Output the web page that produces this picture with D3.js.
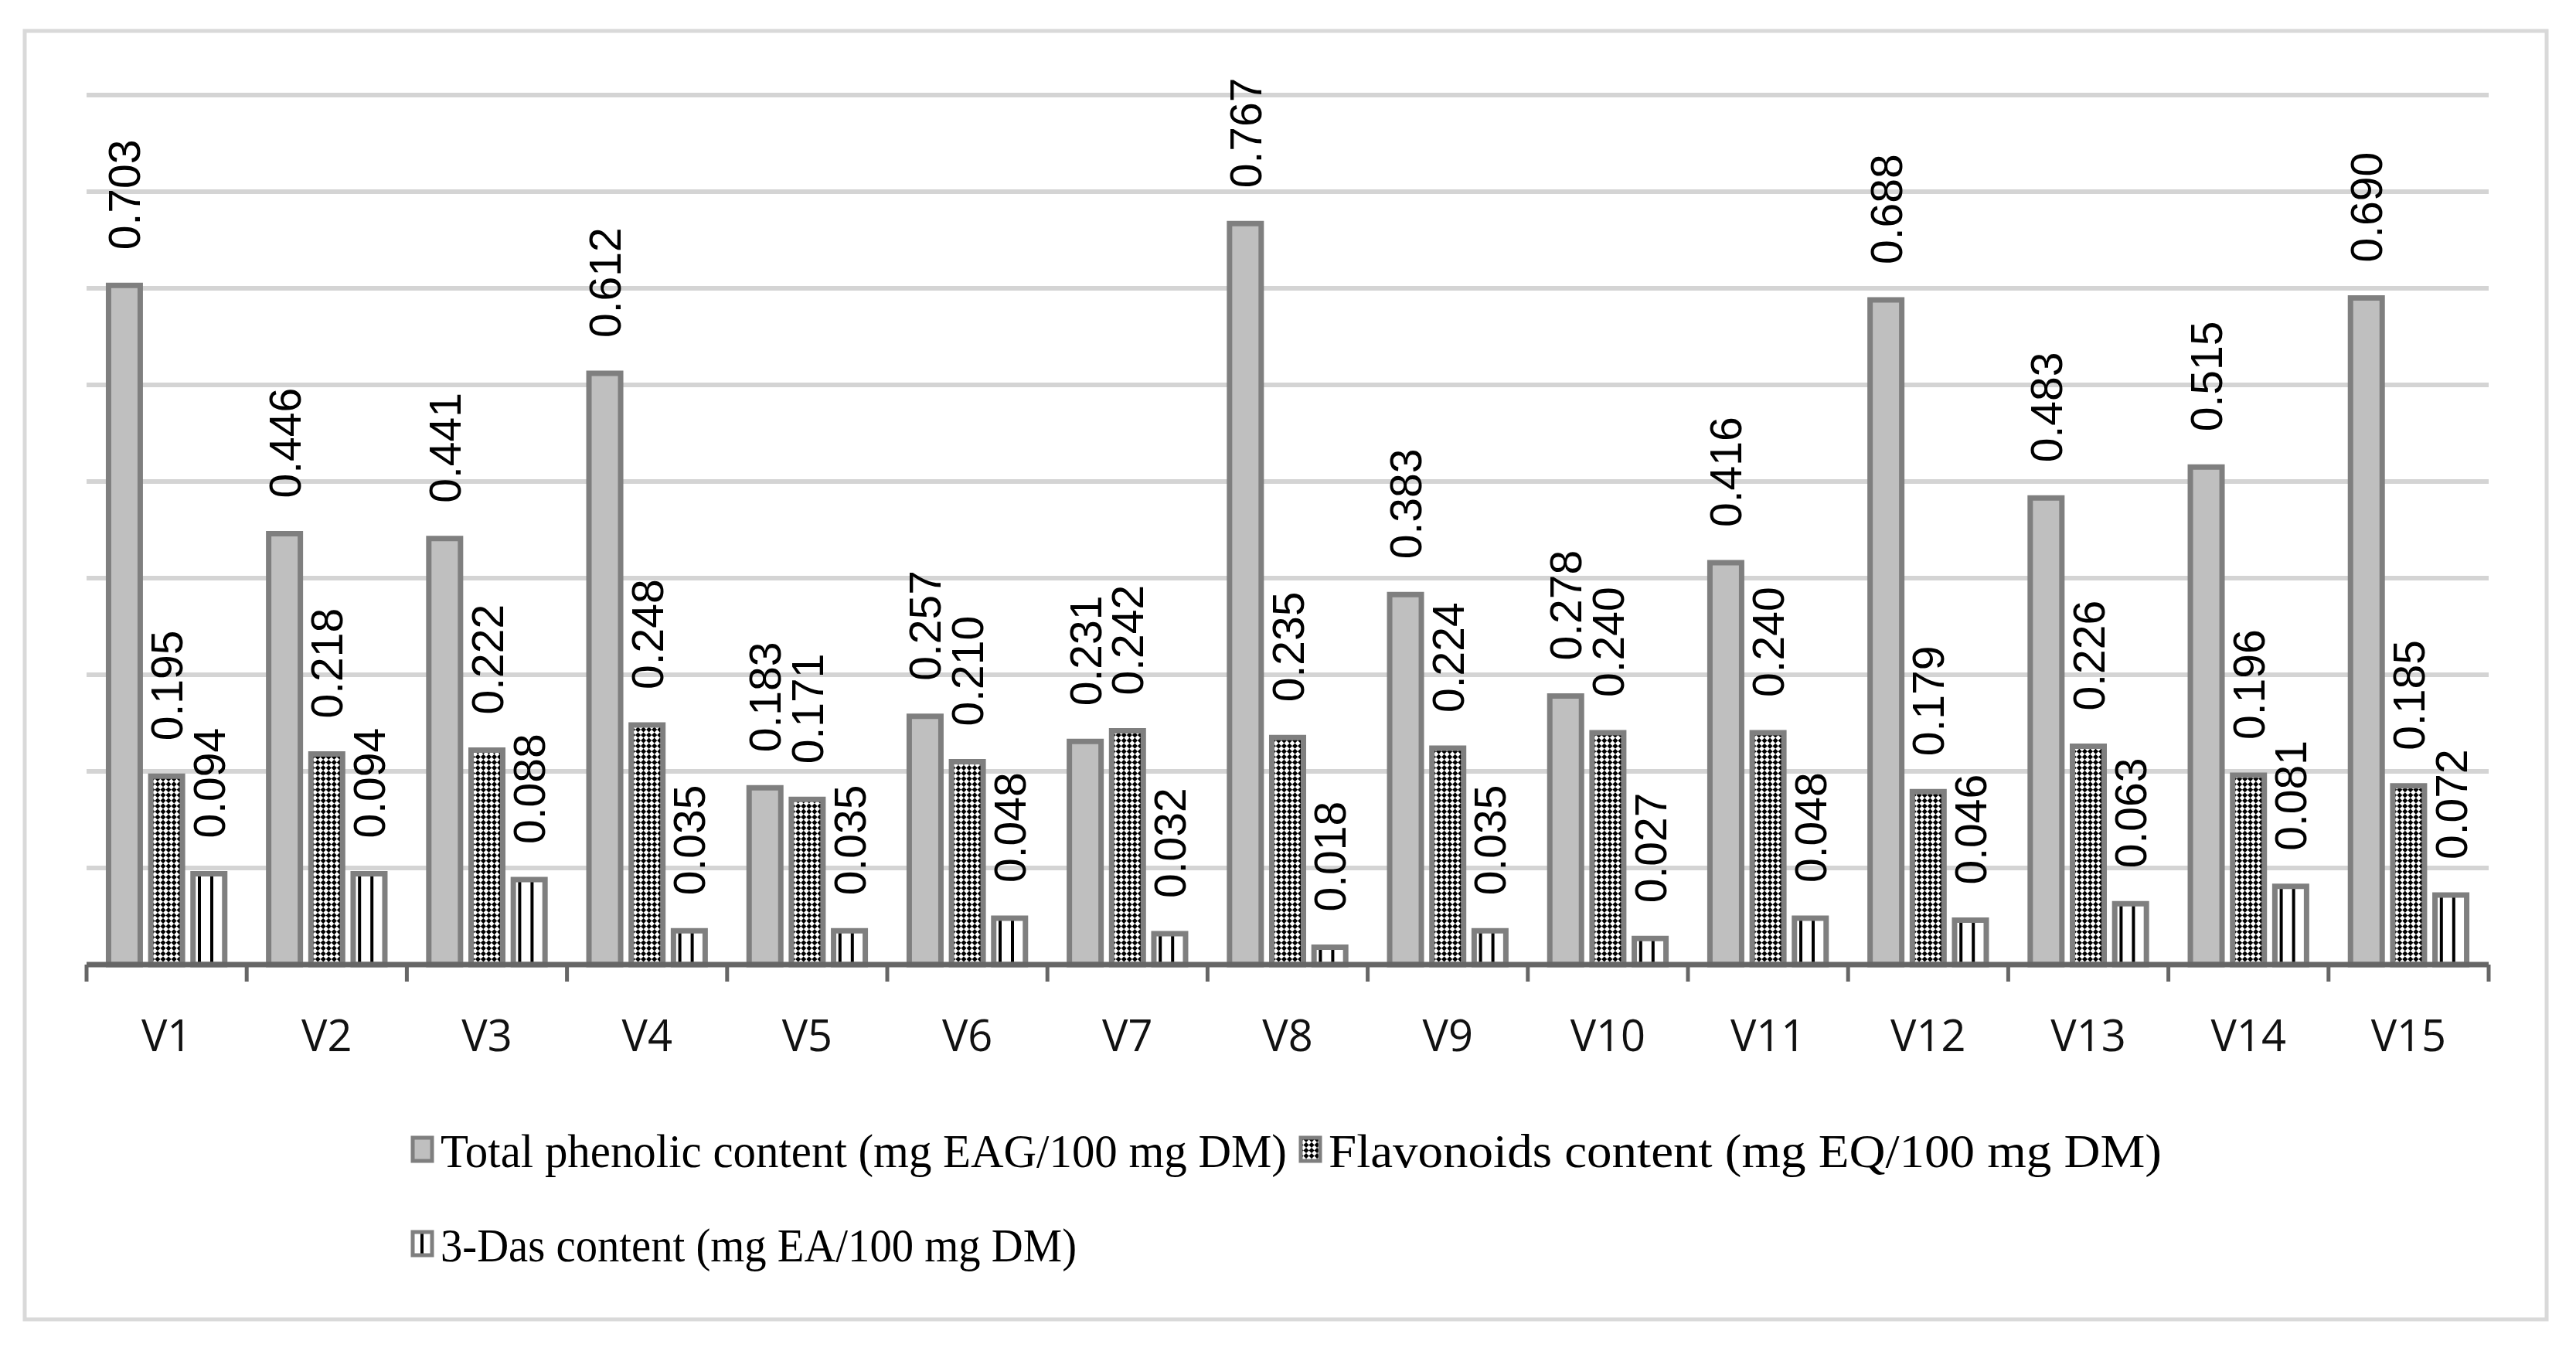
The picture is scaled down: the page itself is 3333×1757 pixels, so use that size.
<!DOCTYPE html>
<html>
<head>
<meta charset="utf-8">
<script src="https://cdn.jsdelivr.net/npm/d3@7"></script>
<style>
  html, body { margin: 0; padding: 0; background: #fff; }
  svg { display: block; }
</style>
</head>
<body>
<div id="chart"></div>
<script>
///////////////////// DATA /////////////////////////
const categories = ["V1","V2","V3","V4","V5","V6","V7","V8","V9","V10","V11","V12","V13","V14","V15"];
const series = [
  "Total phenolic content (mg EAG/100 mg DM)",
  "Flavonoids content (mg EQ/100 mg DM)",
  "3-Das content (mg EA/100 mg DM)"
];
const totalPhenolic = [0.703,0.446,0.441,0.612,0.183,0.257,0.231,0.767,0.383,0.278,0.416,0.688,0.483,0.515,0.690];
const flavonoids    = [0.195,0.218,0.222,0.248,0.171,0.210,0.242,0.235,0.224,0.240,0.240,0.179,0.226,0.196,0.185];
const dasContent    = [0.094,0.094,0.088,0.035,0.035,0.048,0.032,0.018,0.035,0.027,0.048,0.046,0.063,0.081,0.072];
const yTicks = [0,0.1,0.2,0.3,0.4,0.5,0.6,0.7,0.8,0.9];

///////////////////// LAYOUT /////////////////////////
let W = 3333, H = 1757;
let plot = {left: 112, right: 3220, top: 123, bottom: 1248};
let fills = ["#bfbfbf", "url(#checker)", "url(#vstripe)"];
let legendWidths = [1095, 1078, 823]; // text widths in the original legend

let svg = d3.select("#chart")
  .append("svg")
  .attr("width", W)
  .attr("height", H);

// patterns
let defs = svg.append("defs");
let cs = 10;
let checker = defs.append("pattern")
  .attr("id", "checker")
  .attr("patternUnits", "userSpaceOnUse")
  .attr("width", cs).attr("height", cs)
  .attr("patternTransform", "rotate(45)");
checker.append("rect").attr("width", cs).attr("height", cs).attr("fill", "#fff");
checker.append("rect").attr("width", cs / 2).attr("height", cs / 2).attr("fill", "#000");
checker.append("rect").attr("x", cs / 2).attr("y", cs / 2).attr("width", cs / 2).attr("height", cs / 2).attr("fill", "#000");

let stripe = defs.append("pattern")
  .attr("id", "vstripe")
  .attr("patternUnits", "userSpaceOnUse")
  .attr("width", 16).attr("height", 16);
stripe.append("rect").attr("width", 16).attr("height", 16).attr("fill", "#fff");
stripe.append("rect").attr("x", 0).attr("width", 4).attr("height", 16).attr("fill", "#000");

// outer frame
svg.append("rect")
  .attr("x", 32).attr("y", 40)
  .attr("width", 3263).attr("height", 1667)
  .attr("fill", "#fff")
  .attr("stroke", "#d9d9d9")
  .attr("stroke-width", 5);

// scales
let x0 = d3.scaleBand()
  .domain(categories)
  .range([plot.left, plot.right]);

let x1 = d3.scaleBand()
  .domain(series)
  .range([0, x0.bandwidth()])
  .paddingInner(0.25)
  .paddingOuter(0.52);

let y = d3.scaleLinear()
  .domain([0, 0.9])
  .range([plot.bottom, plot.top]);

// gridlines
svg.append("g")
  .selectAll("line")
  .data(yTicks.filter(t => t > 0))
  .enter()
  .append("line")
  .attr("x1", plot.left).attr("x2", plot.right)
  .attr("y1", d => y(d)).attr("y2", d => y(d))
  .attr("stroke", "#d4d4d4")
  .attr("stroke-width", 6);

// bars
let rows = categories.map((c, i) => ({
  cat: c,
  vals: [totalPhenolic[i], flavonoids[i], dasContent[i]]
}));

let groups = svg.append("g")
  .selectAll("g")
  .data(rows)
  .enter()
  .append("g")
  .attr("transform", d => "translate(" + x0(d.cat) + ",0)");

groups.selectAll("rect")
  .data(d => d.vals.map((v, j) => ({s: series[j], j: j, v: v})))
  .enter()
  .append("rect")
  .attr("x", d => x1(d.s))
  .attr("y", d => y(d.v))
  .attr("width", x1.bandwidth())
  .attr("height", d => y(0) - y(d.v))
  .attr("fill", d => fills[d.j])
  .attr("stroke", "#7f7f7f")
  .attr("stroke-width", 7);

// value labels (rotated)
groups.selectAll("text")
  .data(d => d.vals.map((v, j) => ({s: series[j], j: j, v: v})))
  .enter()
  .append("text")
  .attr("transform", d => "translate(" + (x1(d.s) + x1.bandwidth() / 2) + "," + (y(d.v) - 46) + ") rotate(-90)")
  .attr("dy", "0.36em")
  .attr("text-anchor", "start")
  .style("font-family", "'Liberation Sans', Arial, sans-serif")
  .style("font-size", "57px")
  .style("fill", "#000")
  .text(d => d.v.toFixed(3));

// category labels
let xAxis = svg.append("g")
  .attr("transform", "translate(0," + plot.bottom + ")")
  .call(d3.axisBottom(x0).tickSize(0).tickPadding(112));
xAxis.select(".domain").remove();
xAxis.selectAll("text")
  .attr("dy", 0)
  .style("font-family", "'Open Sans', sans-serif")
  .style("font-size", "56px")
  .style("fill", "#111");

// axis line + boundary ticks
svg.append("line")
  .attr("x1", plot.left).attr("x2", plot.right)
  .attr("y1", plot.bottom).attr("y2", plot.bottom)
  .attr("stroke", "#666")
  .attr("stroke-width", 7);

svg.append("g")
  .selectAll("line")
  .data(d3.range(categories.length + 1))
  .enter()
  .append("line")
  .attr("x1", i => plot.left + i * x0.step())
  .attr("x2", i => plot.left + i * x0.step())
  .attr("y1", plot.bottom)
  .attr("y2", plot.bottom + 22)
  .attr("stroke", "#666")
  .attr("stroke-width", 5);

// legend
let legendRows = [[0, 1], [2]];
let legendY = [1510, 1632];
let legend = svg.append("g");
legendRows.forEach((r, ri) => {
  let cx = 532;
  r.forEach(j => {
    legend.append("rect")
      .attr("x", cx + 2).attr("y", legendY[ri] - 38)
      .attr("width", 25).attr("height", 30)
      .attr("fill", fills[j])
      .attr("stroke", "#7f7f7f")
      .attr("stroke-width", 5);
    legend.append("text")
      .attr("x", cx + 38)
      .attr("y", legendY[ri])
      .attr("textLength", legendWidths[j])
      .attr("lengthAdjust", "spacingAndGlyphs")
      .style("font-family", "'Liberation Serif', 'Times New Roman', serif")
      .style("font-size", "62px")
      .style("fill", "#000")
      .text(series[j]);
    cx = cx + 38 + legendWidths[j] + 16;
  });
});
</script>
</body>
</html>
